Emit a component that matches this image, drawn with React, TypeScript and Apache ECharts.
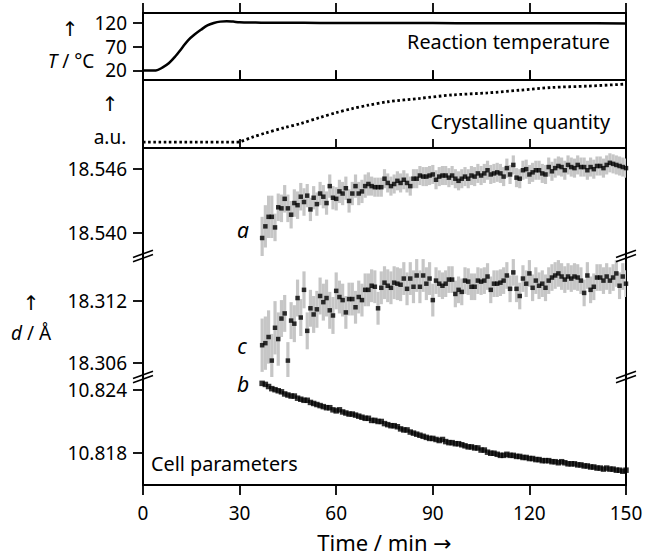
import { useEffect, useRef } from "react";
import * as echarts from "echarts";

const FONT = '"Noto Sans", "DejaVu Sans", sans-serif';

// Reaction temperature (°C) vs time (min)
const TEMP_TIME = [0, 4, 6, 8, 10, 12, 14, 16, 18, 20, 22, 24, 26, 28, 30, 35, 40, 50, 60, 75, 90, 105, 120, 135, 150];
const TEMP_VALUE = [20, 20, 26, 35, 49, 66, 83, 95, 105, 114, 119, 122, 123, 122, 120.5, 120, 119.5, 119.5, 119, 119, 119, 118.5, 118.5, 118.5, 118];

// Crystalline quantity (a.u.) vs time (min)
const CRYST_TIME = [0, 29, 30, 34, 38, 44, 49, 55, 60, 65, 70, 76, 86, 96, 107, 117, 127, 138, 150];
const CRYST_VALUE = [0.085, 0.085, 0.09, 0.16, 0.22, 0.3, 0.36, 0.45, 0.52, 0.58, 0.63, 0.68, 0.73, 0.78, 0.81, 0.85, 0.89, 0.91, 0.94];

// Cell parameter sampling times (min)
const CELL_TIME = [
  37, 38, 39, 40, 41, 42, 43, 44, 45, 46, 47, 48, 49, 50, 51, 52, 53, 54, 55, 56,
  57, 58, 59, 60, 61, 62, 63, 64, 65, 66, 67, 68, 69, 70, 71, 72, 73, 74, 75, 76,
  77, 78, 79, 80, 81, 82, 83, 84, 85, 86, 87, 88, 89, 90, 91, 92, 93, 94, 95, 96,
  97, 98, 99, 100, 101, 102, 103, 104, 105, 106, 107, 108, 109, 110, 111, 112, 113, 114, 115, 116,
  117, 118, 119, 120, 121, 122, 123, 124, 125, 126, 127, 128, 129, 130, 131, 132, 133, 134, 135, 136,
  137, 138, 139, 140, 141, 142, 143, 144, 145, 146, 147, 148, 149, 150,
];

// Cell parameter a (Å)
const A_VALUES = [
  18.5395, 18.5406, 18.5415, 18.5415, 18.5405, 18.5424, 18.5423, 18.5432, 18.5423, 18.5417,
  18.5428, 18.5426, 18.5434, 18.5429, 18.5435, 18.5422, 18.5433, 18.5427, 18.5437, 18.5434,
  18.5428, 18.5444, 18.5433, 18.5432, 18.5439, 18.5437, 18.5442, 18.5430, 18.5437, 18.5444,
  18.5437, 18.5439, 18.5444, 18.5446, 18.5444, 18.5443, 18.5443, 18.5443, 18.5451, 18.5447,
  18.5444, 18.5446, 18.5449, 18.5447, 18.5450, 18.5447, 18.5444, 18.5451, 18.5451, 18.5454,
  18.5453, 18.5453, 18.5454, 18.5455,
  18.5450, 18.5453, 18.5454, 18.5454, 18.5452, 18.5454, 18.5451, 18.5449, 18.5451, 18.5453,
  18.5451, 18.5454, 18.5453, 18.5456, 18.5454, 18.5456, 18.5459, 18.5455, 18.5456, 18.5457,
  18.5456, 18.5453, 18.5461, 18.5455, 18.5464, 18.5452, 18.5451, 18.5459, 18.5460, 18.5455,
  18.5457,
  18.5459, 18.5459, 18.5456, 18.5455, 18.5462, 18.5458, 18.5461, 18.5463, 18.5462, 18.5459,
  18.5464, 18.5462, 18.5461, 18.5464, 18.5462, 18.5462, 18.5459, 18.5462, 18.5460,
  18.5463, 18.5463, 18.5461, 18.5464, 18.5466, 18.5465, 18.5464, 18.5463, 18.5462, 18.5461,
];

// Cell parameter c (Å)
const C_VALUES = [
  18.3077, 18.3079, 18.3085, 18.3062, 18.3094, 18.3083, 18.3103, 18.3108, 18.3062, 18.3101,
  18.3098, 18.3123, 18.3104, 18.3131, 18.3091, 18.3113, 18.3107, 18.3112, 18.3125, 18.3119,
  18.3123, 18.3111, 18.3106, 18.3130, 18.3124, 18.3121, 18.3109, 18.3122, 18.3122, 18.3114,
  18.3124, 18.3121, 18.3131, 18.3131, 18.3135, 18.3134, 18.3113, 18.3133, 18.3138, 18.3135,
  18.3133, 18.3138, 18.3137, 18.3136, 18.3142, 18.3132, 18.3142, 18.3134, 18.3145, 18.3134,
  18.3145, 18.3137, 18.3142, 18.3121,
  18.3140, 18.3137, 18.3135, 18.3137, 18.3141, 18.3141, 18.3127, 18.3131, 18.3129, 18.3140,
  18.3139, 18.3134, 18.3134, 18.3140, 18.3139, 18.3140, 18.3144, 18.3131, 18.3137, 18.3137,
  18.3138,
  18.3140, 18.3145, 18.3132, 18.3148, 18.3132, 18.3125, 18.3142, 18.3137, 18.3147, 18.3133,
  18.3140, 18.3135, 18.3137, 18.3133, 18.3140, 18.3143, 18.3145, 18.3147, 18.3144, 18.3141,
  18.3144, 18.3142, 18.3144, 18.3143, 18.3140, 18.3128, 18.3145, 18.3131, 18.3134, 18.3143, 18.3143,
  18.3140, 18.3144, 18.3140, 18.3143, 18.3147, 18.3135, 18.3144, 18.3137,
];

// Cell parameter b (Å)
const B_VALUES = [
  10.8246, 10.8245, 10.8243, 10.8241, 10.8240, 10.8239, 10.8238, 10.8236, 10.8235, 10.8234,
  10.8234, 10.8232, 10.8231, 10.8230, 10.8230, 10.8228, 10.8227, 10.8226, 10.8225, 10.8224,
  10.8223, 10.8223, 10.8221, 10.8220, 10.8221, 10.8219, 10.8218, 10.8217, 10.8217, 10.8216,
  10.8215, 10.8214, 10.8213, 10.8213, 10.8211, 10.8211, 10.8210, 10.8210, 10.8208, 10.8207,
  10.8206, 10.8206, 10.8205, 10.8203, 10.8202, 10.8202, 10.8200, 10.8199, 10.8198, 10.8197,
  10.8196, 10.8195, 10.8194, 10.8194, 10.8193, 10.8192, 10.8193, 10.8191, 10.8190, 10.8190,
  10.8189, 10.8189, 10.8188, 10.8187, 10.8186, 10.8186, 10.8185, 10.8185, 10.8183, 10.8183,
  10.8181, 10.8180, 10.8180, 10.8179, 10.8178, 10.8178,
  10.8179, 10.8178, 10.8178, 10.8177, 10.8177, 10.8176, 10.8176, 10.8175, 10.8175, 10.8174,
  10.8174, 10.8173, 10.8173, 10.8173, 10.8172, 10.8172, 10.8171, 10.8172, 10.8171, 10.8170,
  10.8170, 10.8170, 10.8169, 10.8169, 10.8168, 10.8168, 10.8167, 10.8167, 10.8166, 10.8166,
  10.8165, 10.8166, 10.8165, 10.8165, 10.8164, 10.8164, 10.8163, 10.8164,
];

// Error bar half-widths (Å), valid from the given time onward
const A_ERR_STEPS = [[37, 0.002], [41, 0.0013], [51, 0.0011], [71, 0.0009]];
const C_ERR_STEPS = [[37, 0.0026], [43, 0.0018], [61, 0.0016], [91, 0.0013]];

const X_TICK_INTERVAL = 30;
const T_TICKS = [20, 70, 120];
const A_TICKS = [18.54, 18.546];
const C_TICKS = [18.306, 18.312];
const B_TICKS = [10.818, 10.824];

const W = 648;
const H = 557;
const LEFT = 143;
const RIGHT = 22;
const TOPS = [13, 80, 148, 256, 377];
const HEIGHTS = [67, 68, 108, 121, 108];

function stepErr(steps: number[][], t: number) {
  let e = steps[0][1];
  for (const s of steps) if (t >= s[0]) e = s[1];
  return e;
}

export default function App() {
  const ref = useRef<HTMLDivElement>(null);
  useEffect(() => {
    if (!ref.current) return;
    const chart = echarts.init(ref.current, null, { renderer: "svg" });
    const black = "#000";
    const tickLine = { color: black, width: 1.8 };
    const labelStyle = { fontSize: 19, fontFamily: FONT, color: black };

    const xBase = (grid: number) => ({
      type: "value",
      gridIndex: grid,
      min: 0,
      max: 150,
      interval: X_TICK_INTERVAL,
      splitLine: { show: false },
      axisLine: { show: false, onZero: false },
      axisLabel: { show: false },
      axisTick: { show: false },
    });

    const xAxis: any[] = [
      { ...xBase(0), axisTick: { show: true, inside: true, length: 9, lineStyle: tickLine } },
      { ...xBase(0), axisTick: { show: true, inside: false, length: 10, lineStyle: tickLine } },
      { ...xBase(1), axisTick: { show: true, inside: true, length: 9, lineStyle: tickLine } },
      { ...xBase(1), axisTick: { show: true, inside: false, length: 10, lineStyle: tickLine } },
      { ...xBase(2) },
      { ...xBase(3) },
      {
        ...xBase(4),
        axisLine: { show: true, onZero: false, lineStyle: { color: black, width: 2 } },
        axisTick: { show: true, inside: false, length: 10, lineStyle: tickLine },
        axisLabel: { show: true, ...labelStyle, margin: 18 },
        name: "Time / min →",
        nameLocation: "middle",
        nameGap: 46,
        nameTextStyle: { fontSize: 22, fontFamily: FONT, color: black },
      },
    ];

    const yLeft = (grid: number, min: number, max: number, ticks: number[], dec: number) => ({
      type: "value",
      gridIndex: grid,
      min,
      max,
      position: "left",
      splitLine: { show: false },
      axisLine: { show: grid >= 2, onZero: false, lineStyle: { color: black, width: 2 } },
      axisTick: { show: true, inside: false, length: 10, customValues: ticks, lineStyle: tickLine },
      axisLabel: {
        show: true,
        customValues: ticks,
        ...labelStyle,
        margin: 16,
        formatter: (v: number) => v.toFixed(dec),
      },
    });
    const yRight = (grid: number, min: number, max: number) => ({
      type: "value",
      gridIndex: grid,
      min,
      max,
      position: "right",
      splitLine: { show: false },
      axisLine: { show: true, onZero: false, lineStyle: { color: black, width: 2 } },
      axisTick: { show: false },
      axisLabel: { show: false },
    });

    const yAxis: any[] = [
      yLeft(0, 0, 140, T_TICKS, 0),
      { type: "value", gridIndex: 1, min: 0, max: 1, show: false },
      yLeft(2, 18.5378, 18.548, A_TICKS, 3),
      yLeft(3, 18.3046, 18.3164, C_TICKS, 3),
      yLeft(4, 10.815, 10.8252, B_TICKS, 3),
      yRight(2, 18.5378, 18.548),
      yRight(3, 18.3046, 18.3164),
      yRight(4, 10.815, 10.8252),
    ];

    const grid = TOPS.map((top, i) => ({
      left: LEFT,
      right: RIGHT,
      top,
      height: HEIGHTS[i],
      show: i < 2,
      borderColor: black,
      borderWidth: 2,
      backgroundColor: "transparent",
    }));

    const errRender = (params: any, api: any) => {
      const t = api.value(0);
      const v = api.value(1);
      const e = api.value(2);
      const p1 = api.coord([t, v + e]);
      const p2 = api.coord([t, v - e]);
      return {
        type: "rect",
        shape: { x: p1[0] - 1.6, y: p1[1], width: 3.2, height: p2[1] - p1[1] },
        style: { fill: "#c6c6c6" },
      };
    };

    const n = CELL_TIME.length;
    const aData = CELL_TIME.slice(0, Math.min(n, A_VALUES.length)).map((t, i) => [t, A_VALUES[i], stepErr(A_ERR_STEPS, t)]);
    const cData = CELL_TIME.slice(0, Math.min(n, C_VALUES.length)).map((t, i) => [t, C_VALUES[i], stepErr(C_ERR_STEPS, t)]);
    const bData = CELL_TIME.slice(0, Math.min(n, B_VALUES.length)).map((t, i) => [t, B_VALUES[i]]);

    const series: any[] = [
      {
        type: "line",
        xAxisIndex: 0,
        yAxisIndex: 0,
        data: TEMP_TIME.map((t, i) => [t, TEMP_VALUE[i]]),
        smooth: 0.35,
        showSymbol: false,
        lineStyle: { color: black, width: 2.5 },
      },
      {
        type: "line",
        xAxisIndex: 2,
        yAxisIndex: 1,
        data: CRYST_TIME.map((t, i) => [t, CRYST_VALUE[i]]),
        smooth: 0.3,
        showSymbol: false,
        lineStyle: { color: black, width: 2.8, type: [2.6, 2.6], cap: "butt" },
      },
      { type: "custom", xAxisIndex: 4, yAxisIndex: 2, clip: true, data: aData, encode: { x: 0, y: 1 }, renderItem: errRender, z: 1 },
      { type: "scatter", xAxisIndex: 4, yAxisIndex: 2, data: aData.map((d) => [d[0], d[1]]), symbol: "rect", symbolSize: 4.5, itemStyle: { color: black }, z: 2 },
      { type: "custom", xAxisIndex: 5, yAxisIndex: 3, clip: true, data: cData, encode: { x: 0, y: 1 }, renderItem: errRender, z: 1 },
      { type: "scatter", xAxisIndex: 5, yAxisIndex: 3, data: cData.map((d) => [d[0], d[1]]), symbol: "rect", symbolSize: 4.5, itemStyle: { color: black }, z: 2 },
      { type: "scatter", xAxisIndex: 6, yAxisIndex: 4, data: bData, symbol: "rect", symbolSize: 5.5, itemStyle: { color: black }, z: 2 },
    ];

    const txt = (x: number, y: number, text: string, align = "center", extra: any = {}) => ({
      type: "text",
      x,
      y,
      z: 100,
      style: {
        text,
        fontSize: 19,
        fontFamily: FONT,
        fill: black,
        align,
        verticalAlign: "middle",
        ...extra,
      },
    });
    const italicRich = {
      i: { fontStyle: "italic", fontSize: 19, fontFamily: FONT, fill: black },
      n: { fontSize: 19, fontFamily: FONT, fill: black },
    };

    const breaks: any[] = [];
    const rightX = W - RIGHT;
    [TOPS[3], TOPS[4]].forEach((by) => {
      [LEFT, rightX].forEach((bx) => {
        [-2.2, 2.2].forEach((off) => {
          breaks.push({
            type: "line",
            z: 100,
            shape: { x1: bx - 10, y1: by + off + 3.6, x2: bx + 10, y2: by + off - 3.6 },
            style: { stroke: black, lineWidth: 1.6 },
          });
        });
      });
    });

    const graphic: any[] = [
      txt(70, 28, "↑", "center", { fontSize: 20 }),
      txt(71, 61, "{i|T}{n| / °C}", "center", { rich: italicRich }),
      txt(110, 103, "↑", "center", { fontSize: 20 }),
      txt(110, 137, "a.u."),
      txt(31, 302, "↑", "center", { fontSize: 20 }),
      txt(31, 333, "{i|d}{n| / Å}", "center", { rich: italicRich }),
      txt(610, 41, "Reaction temperature", "right", { fontSize: 19.8 }),
      txt(610, 121, "Crystalline quantity", "right", { fontSize: 19.8 }),
      txt(151, 463, "Cell parameters", "left", { fontSize: 19.8 }),
      txt(243, 230, "a", "center", { fontStyle: "italic", fontSize: 21 }),
      txt(242, 346, "c", "center", { fontStyle: "italic", fontSize: 21 }),
      txt(243, 384, "b", "center", { fontStyle: "italic", fontSize: 21 }),
      ...breaks,
    ];

    chart.setOption({
      animation: false,
      backgroundColor: "#fff",
      textStyle: { fontFamily: FONT },
      grid,
      xAxis,
      yAxis,
      series,
      graphic,
    });
    return () => chart.dispose();
  }, []);

  return <div ref={ref} style={{ position: "fixed", left: 0, top: 0, width: W, height: H }} />;
}
